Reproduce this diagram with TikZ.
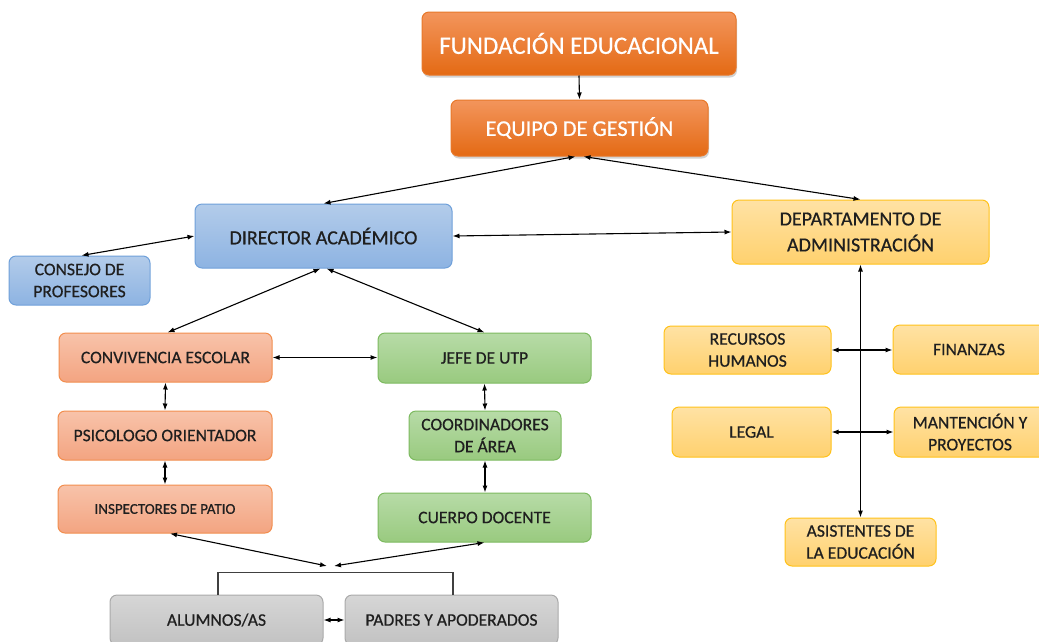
\documentclass[tikz,border=0pt]{standalone}
\usepackage{fontspec}
\setmainfont{Carlito}[RawFeature={embolden=0.6}]
\usetikzlibrary{arrows.meta,shadows}
\definecolor{txt}{HTML}{1F1F1F}
\definecolor{orT}{HTML}{F3955C}
\definecolor{orB}{HTML}{E46A14}
\definecolor{orD}{HTML}{E8782A}
\definecolor{blT}{HTML}{B3CCEA}
\definecolor{blB}{HTML}{8DB3E2}
\definecolor{blD}{HTML}{6FA0DA}
\definecolor{saT}{HTML}{F8C3AA}
\definecolor{saB}{HTML}{F3A481}
\definecolor{saD}{HTML}{F28E4E}
\definecolor{grT}{HTML}{B7DBA7}
\definecolor{grB}{HTML}{99CA7F}
\definecolor{grD}{HTML}{7DBA60}
\definecolor{yeT}{HTML}{FFE2A4}
\definecolor{yeB}{HTML}{FFD16E}
\definecolor{yeD}{HTML}{FFC21A}
\definecolor{gyT}{HTML}{D6D6D6}
\definecolor{gyB}{HTML}{C2C2C2}
\definecolor{gyD}{HTML}{AAAAAA}
\tikzset{
  box/.style={rounded corners=7pt, line width=1pt, inner sep=2pt, align=center, text=txt},
  orangebox/.style={box, draw=orD, top color=orT, bottom color=orB, text=white,
     drop shadow={shadow xshift=1pt, shadow yshift=-2.5pt, opacity=0.35}},
  bluebox/.style={box, draw=blD, top color=blT, bottom color=blB},
  salmonbox/.style={box, draw=saD, top color=saT, bottom color=saB},
  greenbox/.style={box, draw=grD, top color=grT, bottom color=grB},
  yellowbox/.style={box, draw=yeD, top color=yeT, bottom color=yeB},
  graybox/.style={box, draw=gyD, top color=gyT, bottom color=gyB},
  arr/.style={line width=1.1pt, black, {Latex[length=7pt,width=5pt]}-{Latex[length=7pt,width=5pt]}},
  arrone/.style={line width=1.1pt, black, -{Latex[length=7pt,width=5pt]}},
  bracketline/.style={line width=1.6pt, draw=black!75},
  fA/.style={font=\fontsize{25}{28}\selectfont},
  fB/.style={font=\fontsize{22.4}{26}\selectfont},
  fC/.style={font=\fontsize{20}{26}\selectfont},
  fD/.style={font=\fontsize{17.6}{22}\selectfont},
  fE/.style={font=\fontsize{15}{20}\selectfont},
}
\begin{document}
\begin{tikzpicture}[x=1pt,y=-1pt]
\useasboundingbox[fill=white] (0,0) rectangle (1039,641);
% top
\node[orangebox, fA, minimum width=314pt, minimum height=63pt] (fund) at (579,43.5) {FUNDACIÓN EDUCACIONAL};
\node[orangebox, fB, minimum width=257pt, minimum height=56pt] (equipo) at (579.5,128) {EQUIPO DE GESTIÓN};
% academic side
\node[bluebox, fC, minimum width=257pt, minimum height=64pt] (director) at (323.5,236) {DIRECTOR ACADÉMICO};
\node[bluebox, fD, minimum width=141pt, minimum height=49pt] (consejo) at (79.5,280.5) {CONSEJO DE\\PROFESORES};
\node[salmonbox, fD, minimum width=213pt, minimum height=49pt] (conv) at (165.5,357.5) {CONVIVENCIA ESCOLAR};
\node[salmonbox, fD, minimum width=214pt, minimum height=49pt] (psico) at (165,435.5) {PSICOLOGO ORIENTADOR};
\node[salmonbox, fE, minimum width=214pt, minimum height=48pt] (insp) at (165,509) {INSPECTORES DE PATIO};
\node[greenbox, fD, minimum width=213pt, minimum height=50pt] (jefe) at (484.5,358) {JEFE DE UTP};
\node[greenbox, fD, minimum width=152pt, minimum height=49pt] (coord) at (485,435.5) {COORDINADORES\\DE ÁREA};
\node[greenbox, fD, minimum width=213pt, minimum height=49pt] (cuerpo) at (484.5,517.5) {CUERPO DOCENTE};
\node[graybox, fD, minimum width=213pt, minimum height=50pt] (alumnos) at (216.5,620) {ALUMNOS/AS};
\node[graybox, fD, minimum width=213pt, minimum height=50pt] (padres) at (451.5,620) {PADRES Y APODERADOS};
% administration side
\node[yellowbox, fC, minimum width=257pt, minimum height=64pt] (depto) at (860.5,232) {DEPARTAMENTO DE\\ADMINISTRACIÓN};
\node[yellowbox, fD, minimum width=167pt, minimum height=48pt] (recursos) at (747.5,350) {RECURSOS\\HUMANOS};
\node[yellowbox, fD, minimum width=152pt, minimum height=49pt] (finanzas) at (969,349.5) {FINANZAS};
\node[yellowbox, fD, minimum width=159pt, minimum height=50pt] (legal) at (751.5,432) {LEGAL};
\node[yellowbox, fD, minimum width=152pt, minimum height=50pt] (mant) at (970,432) {MANTENCIÓN Y\\PROYECTOS};
\node[yellowbox, fD, minimum width=151pt, minimum height=48pt] (asist) at (860.5,542) {ASISTENTES DE\\LA EDUCACIÓN};
% connectors
\draw[arrone] (fund.south) -- (equipo.north);
\draw[arr] ([xshift=-4pt]equipo.south) -- (director.north);
\draw[arr] ([xshift=4pt]equipo.south) -- (depto.north);
\draw[arr] (director.west) -- ([xshift=2pt]consejo.north);
\draw[arr] (director.east) -- (depto.west);
\draw[arr] ([xshift=-3pt]director.south) -- ([xshift=2pt]conv.north);
\draw[arr] ([xshift=3pt]director.south) -- (jefe.north);
\draw[arr] (conv.east) -- (conv.east -| jefe.west);
\draw[arr] (conv.south) -- (psico.north);
\draw[arr] (psico.south) -- (insp.north);
\draw[arr] (jefe.south) -- (coord.north);
\draw[arr] (coord.south) -- (coord.south |- cuerpo.north);
\coordinate (midL) at (327,566);
\coordinate (midR) at (334,566);
\draw[arr] ([xshift=5pt]insp.south) -- (midL);
\draw[arr] (cuerpo.south) -- (midR);
\draw[bracketline] ([xshift=1.5pt]alumnos.north) -- ++(0,-22) -| ([xshift=1.5pt]padres.north);
\draw[arr] (alumnos.east) -- (padres.west);
\draw[arr] (depto.south) -- (asist.north);
\draw[arr] (recursos.east) -- (recursos.east -| finanzas.west);
\draw[arr] (legal.east) -- (legal.east -| mant.west);
\end{tikzpicture}
\end{document}
